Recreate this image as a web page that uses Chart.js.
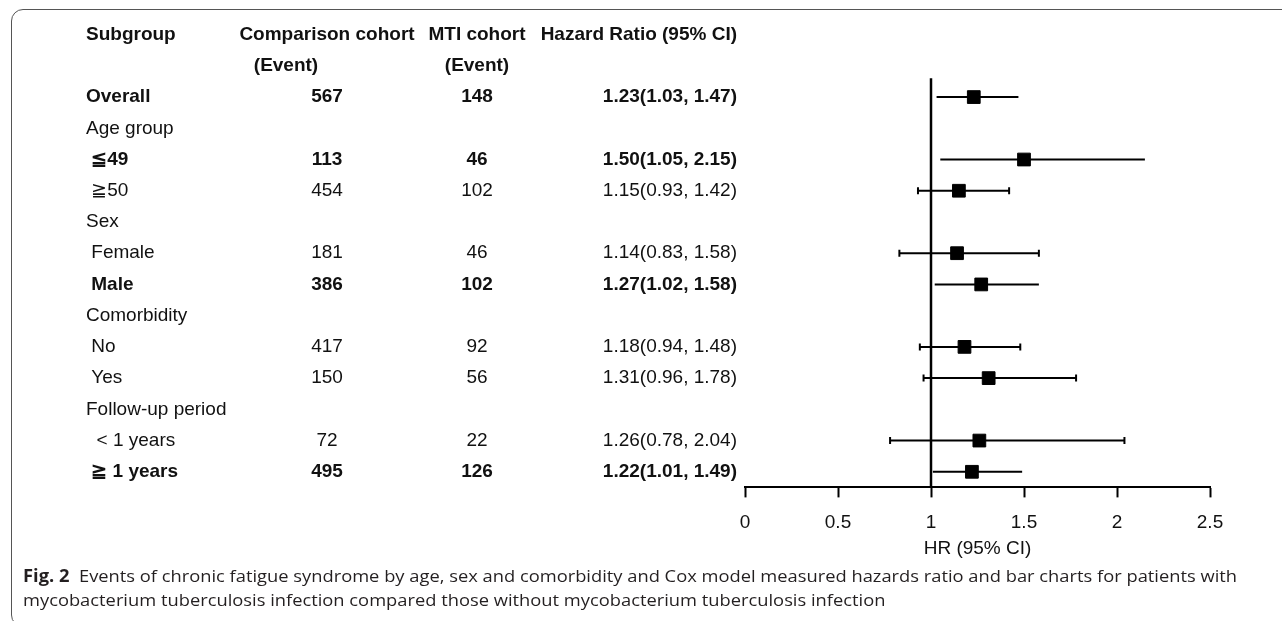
<!DOCTYPE html>
<html>
<head>
<meta charset="utf-8">
<script src="https://cdn.jsdelivr.net/npm/chart.js@4.4.0/dist/chart.umd.min.js"></script>
<style>
  html, body { margin: 0; padding: 0; background: #fff; }
  #wrap { position: relative; width: 1282px; height: 621px; overflow: hidden; }
  #frame { position: absolute; left: 11px; top: 9px; width: 1320px; height: 618px;
           border: 1.5px solid #555; border-radius: 12px; box-sizing: border-box; }
  #chartBox { position: absolute; left: 0; top: 0; width: 1282px; height: 621px; }
  .cap { position: absolute; left: 23px; white-space: nowrap; font-family: "Open Sans", sans-serif;
         font-size: 17px; color: #231f20; transform-origin: 0 50%; }
  .cap b { font-weight: 700; }
</style>
</head>
<body>
<div id="wrap">
  <div id="frame"></div>
  <div id="chartBox"><canvas id="forest"></canvas></div>
  <div class="cap" id="cap1" style="top:564px"><b>Fig. 2</b>&nbsp; Events of chronic fatigue syndrome by age, sex and comorbidity and Cox model measured hazards ratio and bar charts for patients with</div>
  <div class="cap" id="cap2" style="top:588px">mycobacterium tuberculosis infection compared those without mycobacterium tuberculosis infection</div>
</div>
<script>
// ---- data ----
const headerTop = ["Subgroup", "Comparison cohort", "MTI cohort", "Hazard Ratio (95% CI)"];
const headerSub = ["", "(Event)", "(Event)", ""];

const subgroups = ["Overall", "Age group", " \u226649", " \u226750", "Sex", " Female", " Male",
  "Comorbidity", " No", " Yes", "Follow-up period", "  < 1 years", " \u2267 1 years"];
const boldRows = [true, false, true, false, false, false, true, false, false, false, false, false, true];

const comparisonEvents = [567, null, 113, 454, null, 181, 386, null, 417, 150, null, 72, 495];
const mtiEvents        = [148, null, 46, 102, null, 46, 102, null, 92, 56, null, 22, 126];
const hr     = [1.23, null, 1.50, 1.15, null, 1.14, 1.27, null, 1.18, 1.31, null, 1.26, 1.22];
const ciLow  = [1.03, null, 1.05, 0.93, null, 0.83, 1.02, null, 0.94, 0.96, null, 0.78, 1.01];
const ciHigh = [1.47, null, 2.15, 1.42, null, 1.58, 1.58, null, 1.48, 1.78, null, 2.04, 1.49];

const xTicks = [0, 0.5, 1, 1.5, 2, 2.5];

// rows 0 and 1 hold the header, subgroups start at row 2
const FIRST_ROW = 2;
const ROW_COUNT = FIRST_ROW + subgroups.length;

// ---- helpers ----
const fmt = v => v.toFixed(2);
const hrText = hr.map((v, i) => v == null ? "" : `${fmt(v)}(${fmt(ciLow[i])}, ${fmt(ciHigh[i])})`);

// intervals crossing 1 are drawn with end caps in the original figure
const capped = ciLow.map(v => v != null && v < 1);

const ciDatasets = [];
const capPoints = [];
const squarePoints = [];
hr.forEach((v, i) => {
  if (v == null) return;
  const row = FIRST_ROW + i;
  ciDatasets.push({
    type: "line",
    data: [{ x: ciLow[i], y: row }, { x: ciHigh[i], y: row }],
    borderColor: "#000",
    borderWidth: 2,
    pointRadius: 0,
    order: 3
  });
  if (capped[i]) {
    capPoints.push({ x: ciLow[i], y: row }, { x: ciHigh[i], y: row });
  }
  squarePoints.push({ x: v, y: row });
});

// ---- table text drawn on the canvas, rows aligned with the y scale ----
const FONT = '"Liberation Sans", Arial, sans-serif';
const tablePlugin = {
  id: "tableText",
  afterDraw(chart) {
    const ctx = chart.ctx;
    const yScale = chart.scales.y;
    const col = { sub: 86, comp: 327, compEvent: 286, mti: 477, hrRight: 737 };
    ctx.save();
    ctx.fillStyle = "#111";
    ctx.textBaseline = "middle";

    // header
    ctx.font = `700 19px ${FONT}`;
    let y0 = yScale.getPixelForValue(0);
    ctx.textAlign = "left";  ctx.fillText(headerTop[0], col.sub, y0);
    ctx.textAlign = "center"; ctx.fillText(headerTop[1], col.comp, y0);
    ctx.fillText(headerTop[2], col.mti, y0);
    ctx.textAlign = "right"; ctx.fillText(headerTop[3], col.hrRight, y0);
    let y1 = yScale.getPixelForValue(1);
    ctx.textAlign = "center";
    ctx.fillText(headerSub[1], col.compEvent, y1);
    ctx.fillText(headerSub[2], col.mti, y1);

    // body
    subgroups.forEach((label, i) => {
      const y = yScale.getPixelForValue(FIRST_ROW + i);
      ctx.font = `${boldRows[i] ? 700 : 400} 19px ${FONT}`;
      ctx.textAlign = "left";
      ctx.fillText(label, col.sub, y);
      if (comparisonEvents[i] != null) {
        ctx.textAlign = "center";
        ctx.fillText(String(comparisonEvents[i]), col.comp, y);
        ctx.fillText(String(mtiEvents[i]), col.mti, y);
        ctx.textAlign = "right";
        ctx.fillText(hrText[i], col.hrRight, y);
      }
    });
    ctx.restore();
  }
};

const chart = new Chart(document.getElementById("forest"), {
  type: "scatter",
  data: {
    datasets: [
      {
        // reference line at HR = 1
        type: "line",
        data: [{ x: 1, y: 1.4 }, { x: 1, y: ROW_COUNT - 0.5 }],
        borderColor: "#000",
        borderWidth: 2.5,
        pointRadius: 0,
        order: 4
      },
      ...ciDatasets,
      {
        data: capPoints,
        pointStyle: "line",
        rotation: 90,
        radius: 3.5,
        borderColor: "#000",
        borderWidth: 2,
        order: 2
      },
      {
        data: squarePoints,
        pointStyle: "rect",
        radius: 9,
        backgroundColor: "#000",
        borderColor: "#000",
        borderWidth: 1,
        order: 1
      }
    ]
  },
  options: {
    responsive: true,
    maintainAspectRatio: false,
    animation: false,
    layout: { padding: { left: 745, right: 72, top: 19, bottom: 61 } },
    plugins: { legend: { display: false }, tooltip: { enabled: false } },
    scales: {
      x: {
        type: "linear",
        min: 0,
        max: 2.5,
        afterBuildTicks: scale => { scale.ticks = xTicks.map(v => ({ value: v })); },
        border: { display: true, color: "#000", width: 2 },
        grid: { drawOnChartArea: false, drawTicks: true, tickLength: 10, tickWidth: 2, tickColor: "#000" },
        ticks: { color: "#111", padding: 14, maxRotation: 0, font: { family: FONT, size: 19 },
                 callback: v => String(v) },
        title: { display: true, text: "HR (95% CI)", color: "#111", padding: { top: -11, bottom: 0 },
                 font: { family: FONT, size: 19 } }
      },
      y: {
        type: "linear",
        display: false,
        reverse: true,
        min: -0.5,
        max: ROW_COUNT - 0.5
      }
    }
  },
  plugins: [tablePlugin]
});

// caption: squeeze to the width of the condensed journal font
const cap1 = document.getElementById("cap1");
const cap2 = document.getElementById("cap2");
const squeeze = 1214 / cap1.scrollWidth;
cap1.style.transform = `scaleX(${squeeze})`;
cap2.style.transform = `scaleX(${squeeze})`;
</script>
</body>
</html>
